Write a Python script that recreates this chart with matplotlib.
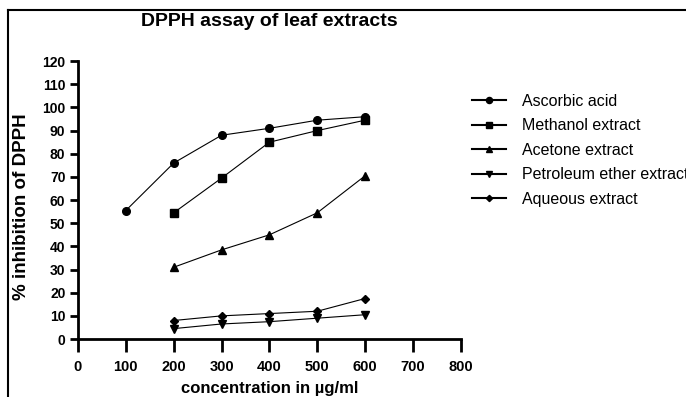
import matplotlib.pyplot as plt
from matplotlib.lines import Line2D

plt.rcParams['font.family'] = ['Liberation Sans', 'DejaVu Sans']

# data
conc_asc = [100, 200, 300, 400, 500, 600]
ascorbic = [55.5, 76, 88, 91, 94.5, 96]
conc = [200, 300, 400, 500, 600]
methanol = [54.5, 69.5, 85, 90, 94.5]
acetone = [31, 38.5, 45, 54.5, 70.5]
petroleum = [4.5, 6.5, 7.5, 9, 10.5]
aqueous = [8, 10, 11, 12, 17.5]

fig = plt.figure(figsize=(6.86, 3.97), dpi=100)
ax = fig.add_axes([0.1137, 0.146, 0.558, 0.700])

kw = dict(color='black', linewidth=0.8)
ax.plot(conc_asc, ascorbic, marker='o', markersize=5.5, label='Ascorbic acid', **kw)
ax.plot(conc, methanol, marker='s', markersize=5.5, label='Methanol extract', **kw)
ax.plot(conc, acetone, marker='^', markersize=5.5, label='Acetone extract', **kw)
ax.plot(conc, petroleum, marker='v', markersize=5.5, label='Petroleum ether extract', **kw)
ax.plot(conc, aqueous, marker='D', markersize=4, label='Aqueous extract', **kw)

ax.set_xlim(0, 800)
ax.set_ylim(0, 120)
ax.set_xticks(range(0, 801, 100))
ax.set_yticks(range(0, 121, 10))
for s in ['top', 'right']:
    ax.spines[s].set_visible(False)
for s in ['left', 'bottom']:
    ax.spines[s].set_linewidth(2)
ax.tick_params(axis='x', width=2, length=9, labelsize=10.5, pad=6)
ax.tick_params(axis='y', width=2, length=6, labelsize=10, pad=3)
for lab in ax.get_xticklabels() + ax.get_yticklabels():
    lab.set_fontweight('bold')

ax.set_xlabel('concentration in µg/ml', fontsize=12, fontweight='bold', labelpad=5)
ax.set_ylabel('% inhibition of DPPH', fontsize=13.5, fontweight='bold')
ax.yaxis.set_label_coords(-0.126, 0.475)
fig.text(0.392, 0.947, 'DPPH assay of leaf extracts', fontsize=14, fontweight='bold',
         ha='center', va='center')

leg = ax.legend(loc='upper left', bbox_to_anchor=(0.992, 0.935), frameon=False,
                fontsize=11.5, handlelength=2.1, labelspacing=0.6, handletextpad=1.0,
                markerscale=0.8)
for h in leg.get_lines():
    h.set_linewidth(1.5)

# outer border (left and top edges visible)
fig.add_artist(Line2D([0.012, 0.012], [0, 0.975], color='black', linewidth=1.5,
                      transform=fig.transFigure))
fig.add_artist(Line2D([0.012, 1.0], [0.975, 0.975], color='black', linewidth=1.5,
                      transform=fig.transFigure))

fig.savefig('out.png', dpi=100)
